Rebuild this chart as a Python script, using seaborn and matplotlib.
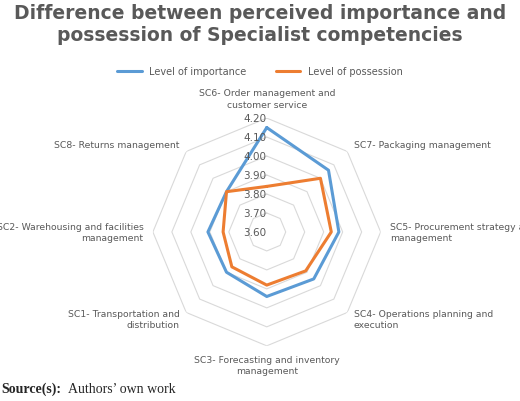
import numpy as np
import matplotlib
matplotlib.use("Agg")
import matplotlib.pyplot as plt
import seaborn as sns

sns.set_theme(style="white")
plt.rcParams['font.family'] = ['DejaVu Sans']

categories = ["SC6- Order management and\ncustomer service", "SC7- Packaging management",
              "SC5- Procurement strategy and\nmanagement", "SC4- Operations planning and\nexecution",
              "SC3- Forecasting and inventory\nmanagement", "SC1- Transportation and\ndistribution",
              "SC2- Warehousing and facilities\nmanagement", "SC8- Returns management"]
importance = [4.15, 4.06, 3.98, 3.95, 3.94, 3.90, 3.91, 3.90]
possession = [3.84, 4.00, 3.94, 3.89, 3.88, 3.86, 3.83, 3.90]
ticks = [3.60, 3.70, 3.80, 3.90, 4.00, 4.10, 4.20]

n = len(categories)
theta = np.arange(n) * 2 * np.pi / n
fig = plt.figure(figsize=(5.2, 4.02), dpi=100)
ax = fig.add_axes([0.294, 0.137, 0.438, 0.567], projection="polar")
ax.set_theta_zero_location("N")
ax.set_theta_direction(-1)
ax.set_ylim(3.6, 4.2)
ax.grid(False)
ax.spines["polar"].set_visible(False)
ax.set_xticks([]); ax.set_yticks([])
tc = np.append(theta, theta[0])
for t in ticks[1:]:
    ax.plot(tc, [t] * (n + 1), color="#d9d9d9", lw=0.8, zorder=1)
ax.plot(tc, importance + importance[:1], color="#5b9bd5", lw=2.2, zorder=3, label="Level of importance")
ax.plot(tc, possession + possession[:1], color="#ed7d31", lw=2.2, zorder=3, label="Level of possession")
for t in ticks:
    ax.text(0, t, f"{t:.2f}", ha="right", va="center", fontsize=7.5, color="#595959", zorder=4)
for th, lab in zip(theta, categories):
    s, c = np.sin(th), np.cos(th)
    ha = "center" if abs(s) < 0.1 else ("left" if s > 0 else "right")
    va = "bottom" if c > 0.9 else ("top" if c < -0.9 else "center")
    ax.text(th, 4.25, lab, ha=ha, va=va, fontsize=6.7, color="#595959", linespacing=1.3)
fig.text(0.5, 0.99, "Difference between perceived importance and\npossession of Specialist competencies",
         ha="center", va="top", fontsize=13.5, fontweight="bold", color="#595959", linespacing=1.2)
fig.legend(loc="center", bbox_to_anchor=(0.5, 0.82), ncol=2, frameon=False, fontsize=7,
           handlelength=2.5, columnspacing=3, labelcolor="#595959")
fig.text(0.003, 0.015, "Source(s):", fontsize=10, fontweight="bold", family="Liberation Serif", va="bottom")
fig.text(0.13, 0.015, "Authors\u2019 own work", fontsize=10, family="Liberation Serif", va="bottom")
fig.savefig("out.png", dpi=100)
